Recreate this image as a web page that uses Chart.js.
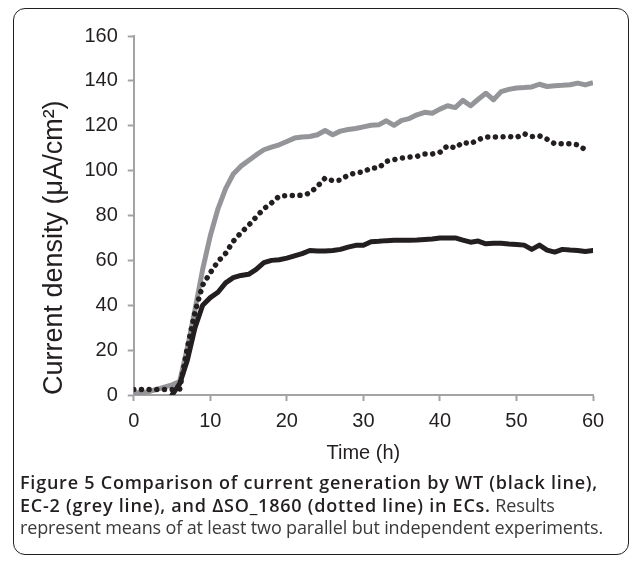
<!DOCTYPE html>
<html>
<head>
<meta charset="utf-8">
<script src="https://cdn.jsdelivr.net/npm/chart.js@4"></script>
<style>
  body { margin: 0; background: #fff; width: 632px; height: 564px; position: relative; overflow: hidden; }
  #frame { position: absolute; left: 13px; top: 8px; width: 616px; height: 547px; box-sizing: border-box;
           border: 1.5px solid #231f20; border-radius: 12px; }
  #chart { position: absolute; left: 0; top: 0; }
  #caption { position: absolute; left: 20px; top: 471px; font-family: "Open Sans", sans-serif; font-size: 18px;
             line-height: 22.5px; color: #3a3a3a; white-space: nowrap; }
  #caption .ln { display: block; width: max-content; }
  #caption b { color: #231f20; font-weight: 600; }
</style>
</head>
<body>
<div id="frame"></div>
<canvas id="chart" width="632" height="473"></canvas>
<div id="caption">
  <span class="ln" id="cap1"><b>Figure 5 Comparison of current generation by WT (black line),</b></span>
  <span class="ln"><b>EC-2 (grey line), and ΔSO_1860 (dotted line) in ECs.</b> Results</span>
  <span class="ln" id="cap3">represent means of at least two parallel but independent experiments.</span>
</div>
<script>
var hours = [0, 1, 2, 3, 4, 5, 6, 7, 8, 9, 10, 11, 12, 13, 14, 15, 16, 17, 18, 19, 20,
	21, 22, 23, 24, 25, 26, 27, 28, 29, 30, 31, 32, 33, 34, 35, 36, 37, 38, 39, 40,
	41, 42, 43, 44, 45, 46, 47, 48, 49, 50, 51, 52, 53, 54, 55, 56, 57, 58, 59, 60];

// WT (black line)
var wt = [null, null, null, null, null, 0, 5, 15.5, 30, 40, 43.4, 45.8, 50, 52.3, 53.3, 53.8, 56, 59, 60, 60.3, 61,
	62, 63, 64.4, 64.2, 64.2, 64.4, 64.9, 65.9, 66.7, 66.7, 68.3, 68.5, 68.8, 69, 69, 69, 69.1, 69.3, 69.5, 70,
	70, 70, 69, 68.1, 68.6, 67.4, 67.6, 67.6, 67.3, 67.1, 66.8, 64.9, 66.8, 64.6, 63.7, 64.9, 64.6, 64.4, 64, 64.4];

// EC-2 (grey line)
var ec2 = [1, 1, 1.5, 2.5, 3.5, 4.5, 6, 21, 38, 56, 71, 83, 92, 98.5, 102, 104.5, 107, 109.3, 110.5, 111.5, 113,
	114.5, 115, 115.2, 116, 117.9, 116, 117.6, 118.3, 118.8, 119.5, 120.2, 120.4, 122.2, 120.2, 122.4, 123.2, 124.9, 126, 125.6, 127.4,
	128.9, 128.1, 131.3, 128.9, 131.8, 134.5, 131.6, 135.2, 136.2, 136.8, 137, 137.3, 138.5, 137.5, 137.8, 138, 138.3, 139, 138.2, 139.2];

// deltaSO_1860 (dotted line)
var so1860 = [2.4, 2.4, 2.4, 2.4, 2.4, 2.4, 2.6, 21, 37, 49, 54.5, 59.5, 63.1, 68.5, 72.3, 75.6, 79.4, 83, 85.6, 88.6, 88.9,
	88.9, 89, 90, 93, 96.7, 95.5, 95.8, 98, 99, 99.4, 101.2, 101.2, 104.1, 104.9, 105.6, 106, 106.4, 107.4, 107.4, 108.2,
	111.1, 110.1, 112.6, 112, 113.8, 115, 115, 115, 115.2, 114.8, 116.4, 115.2, 115.5, 114, 112, 112, 112, 111.5, 109.3, null];

function toPoints(vals) {
	var pts = [];
	for (var i = 0; i < hours.length; i++) {
		pts.push({ x: hours[i], y: vals[i] });
	}
	return pts;
}

var axisGrey = '#a3a3a3';
var ink = '#231f20';

new Chart(document.getElementById('chart').getContext('2d'), {
	type: 'line',
	data: {
		datasets: [{
			label: 'WT',
			data: toPoints(wt),
			borderColor: ink,
			borderWidth: 5,
			borderJoinStyle: 'round',
			borderCapStyle: 'round',
			pointRadius: 0,
			order: 1
		}, {
			label: 'ΔSO_1860',
			data: toPoints(so1860),
			borderColor: ink,
			borderWidth: 5.5,
			borderDash: [0.001, 7.67],
			borderCapStyle: 'round',
			pointRadius: 0,
			order: 2
		}, {
			label: 'EC-2',
			data: toPoints(ec2),
			borderColor: '#949598',
			borderWidth: 5,
			borderJoinStyle: 'round',
			pointRadius: 0,
			order: 3
		}]
	},
	options: {
		responsive: false,
		animation: false,
		devicePixelRatio: 1,
		layout: { padding: { left: 20, top: 36, right: 39, bottom: 8 } },
		plugins: { legend: { display: false }, tooltip: { enabled: false } },
		scales: {
			x: {
				type: 'linear',
				min: 0,
				max: 60,
				ticks: { stepSize: 10, padding: 8, color: ink, font: { family: 'Liberation Sans', size: 20 } },
				grid: { drawOnChartArea: false, tickLength: 6, tickColor: axisGrey, tickWidth: 2 },
				border: { color: axisGrey, width: 2 },
				title: { display: true, text: 'Time (h)', color: ink, padding: { top: 0, bottom: 0 },
					font: { family: 'Liberation Sans', size: 20 } }
			},
			y: {
				min: 0,
				max: 160,
				ticks: { stepSize: 20, padding: 10, color: ink, font: { family: 'Liberation Sans', size: 20 } },
				grid: { drawOnChartArea: false, tickLength: 6, tickColor: axisGrey, tickWidth: 2 },
				border: { color: axisGrey, width: 2 },
				title: { display: true, text: 'Current density (μA/cm²)', color: ink, align: 'start',
					padding: { top: 18, bottom: 4 }, font: { family: 'Liberation Sans', size: 27 } }
			}
		}
	}
});

// one letter spacing for the bold text, one for the plain text,
// taken from the printed widths of the first and last caption lines
function fitCaption() {
	var cap = document.getElementById('caption');
	var lines = cap.querySelectorAll('.ln');
	var bolds = cap.querySelectorAll('b');
	cap.style.letterSpacing = '0px';
	for (var i = 0; i < bolds.length; i++) bolds[i].style.letterSpacing = '';
	var l1 = document.getElementById('cap1'), l3 = document.getElementById('cap3');
	var lsBold = (578 - l1.getBoundingClientRect().width) / l1.textContent.length;
	var lsReg = (583 - l3.getBoundingClientRect().width) / l3.textContent.length;
	cap.style.letterSpacing = lsReg + 'px';
	for (var j = 0; j < bolds.length; j++) bolds[j].style.letterSpacing = lsBold + 'px';
}
fitCaption();
if (document.fonts) document.fonts.ready.then(fitCaption);
</script>
</body>
</html>
